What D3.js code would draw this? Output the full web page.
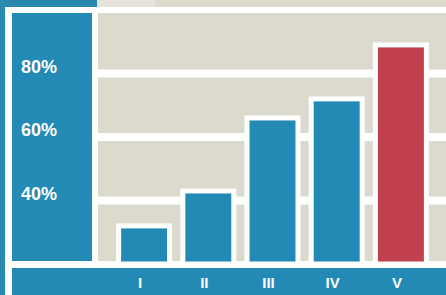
<!DOCTYPE html>
<html>
<head>
<meta charset="utf-8">
<script src="https://cdn.jsdelivr.net/npm/d3@7"></script>
<style>
  html, body { margin: 0; padding: 0; background: #dcd9cd; }
  svg { display: block; }
</style>
</head>
<body>
<div id="chart"></div>
<script>
(function () {
    "use strict";

    // data
    var categories = ["I", "II", "III", "IV", "V"];
    var values = [32, 43, 66, 72, 89];
    var barColors = ["#228ab4", "#228ab4", "#228ab4", "#228ab4", "#c1414f"];
    var yTicks = [40, 60, 80];

    var w = 446;
    var h = 295;
    var blue = "#228ab4";

    var svg = d3.select("#chart")
        .append("svg")
        .attr("width", w)
        .attr("height", h);

    // background pieces
    svg.append("rect").attr("x", 0).attr("y", 0).attr("width", w).attr("height", h).attr("fill", "#dcd9cd");
    svg.append("rect").attr("x", 97).attr("y", 0).attr("width", 58).attr("height", 7).attr("fill", "#e6e4da");
    svg.append("rect").attr("x", 0).attr("y", 0).attr("width", 97).attr("height", 7).attr("fill", "#2a88ae");
    svg.append("rect").attr("x", 0).attr("y", 0).attr("width", 5).attr("height", h).attr("fill", "#2a8bb1");

    // white frame
    svg.append("rect").attr("x", 5).attr("y", 7).attr("width", w - 5).attr("height", h - 7).attr("fill", "#ffffff");

    // plot area
    svg.append("rect").attr("x", 98).attr("y", 13).attr("width", w - 98).attr("height", 248).attr("fill", "#dcd9cd");

    var y = d3.scaleLinear().domain([20, 100]).range([264, 10]);
    var x = d3.scaleBand().domain(categories).range([112, 433]).paddingInner(0.206).paddingOuter(0.103);

    // gridlines
    svg.selectAll("line.grid")
        .data(yTicks)
        .enter()
        .append("line")
        .attr("class", "grid")
        .attr("x1", 98)
        .attr("x2", w)
        .attr("y1", function (d) { return y(d); })
        .attr("y2", function (d) { return y(d); })
        .attr("stroke", "#ffffff")
        .attr("stroke-width", 8);

    // left blue panel with the tick labels
    svg.append("rect").attr("x", 12).attr("y", 13).attr("width", 80).attr("height", 248).attr("fill", blue);

    svg.selectAll("text.ylab")
        .data(yTicks)
        .enter()
        .append("text")
        .attr("class", "ylab")
        .attr("x", 21)
        .attr("y", function (d) { return y(d) - 1; })
        .attr("font-family", "Liberation Sans, Arial, sans-serif")
        .attr("font-weight", "bold")
        .attr("font-size", "18px")
        .attr("fill", "#ffffff")
        .text(function (d) { return d + "%"; });

    // bars
    svg.selectAll("rect.bar")
        .data(values)
        .enter()
        .append("rect")
        .attr("class", "bar")
        .attr("x", function (d, i) { return x(categories[i]); })
        .attr("y", function (d) { return y(d); })
        .attr("width", x.bandwidth())
        .attr("height", function (d) { return y(20) - y(d); })
        .attr("fill", function (d, i) { return barColors[i]; })
        .attr("stroke", "#ffffff")
        .attr("stroke-width", 5);

    // bottom band with category labels
    svg.append("rect").attr("x", 12).attr("y", 268).attr("width", w - 12).attr("height", h - 268).attr("fill", blue);

    var xAxis = svg.append("g")
        .attr("transform", "translate(-4,288)");

    xAxis.selectAll("text")
        .data(categories)
        .enter()
        .append("text")
        .attr("x", function (d) { return x(d) + x.bandwidth() / 2; })
        .attr("y", 0)
        .attr("text-anchor", "middle")
        .attr("font-family", "Liberation Sans, Arial, sans-serif")
        .attr("font-weight", "bold")
        .attr("font-size", "15px")
        .attr("fill", "#ffffff")
        .text(function (d) { return d; });
})();
</script>
</body>
</html>
